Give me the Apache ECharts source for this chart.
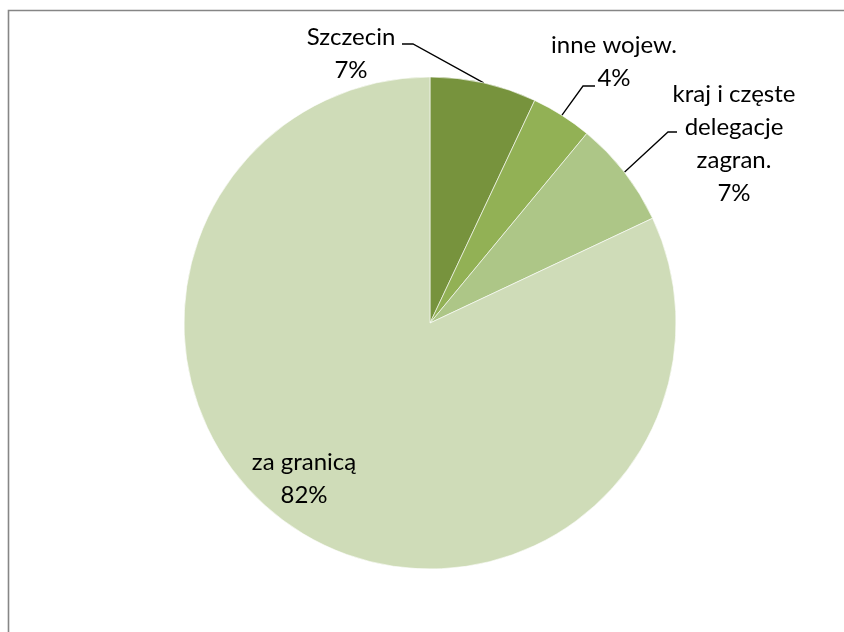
<!DOCTYPE html>
<html>
<head>
<meta charset="utf-8">
<script src="https://cdn.jsdelivr.net/npm/echarts@6/dist/echarts.min.js"></script>
<style>
  html, body { margin: 0; padding: 0; background: #fff; }
  #chart { width: 844px; height: 632px; }
</style>
</head>
<body>
<div id="chart"></div>
<script>
// ---- data ----
const categories = ['Szczecin', 'inne wojew.', 'kraj i częste\ndelegacje\nzagran.', 'za granicą'];
const values = [7, 4, 7, 82];
const colors = ['#77933D', '#92B155', '#ADC687', '#CFDCB8'];

// ---- label layout (pixel anchors for labels and leader-line bends) ----
const labelAnchors = [
  { x: 351, y: 54, align: 'center', bend: [413, 44], end: [402, 44] },
  { x: 614, y: 62, align: 'center', bend: [583, 86], end: [595, 86] },
  { x: 734, y: 144, align: 'center', bend: [668, 132], end: [677, 132] },
  { x: 304, y: 479, align: 'center' }
];

const chart = echarts.init(document.getElementById('chart'), null, { renderer: 'canvas' });

const seriesData = categories.map((name, i) => {
  const item = { name: name, value: values[i], itemStyle: { color: colors[i] } };
  if (i === 3) {
    item.label = { position: 'inside' };
    item.labelLine = { show: false };
  }
  return item;
});

chart.setOption({
  animation: false,
  backgroundColor: '#ffffff',
  graphic: [{
    type: 'rect',
    shape: { x: 8.5, y: 10.5, width: 900, height: 700 },
    style: { fill: 'none', stroke: '#868686', lineWidth: 1.6 },
    silent: true
  }],
  series: [{
    type: 'pie',
    center: [430, 323],
    radius: 246,
    startAngle: 90,
    clockwise: true,
    avoidLabelOverlap: false,
    itemStyle: { borderColor: '#ffffff', borderWidth: 0.6 },
    label: {
      show: true,
      position: 'outside',
      formatter: p => p.name + '\n' + Math.round(p.percent) + '%',
      fontFamily: 'Lato',
      fontSize: 24,
      lineHeight: 33,
      color: '#000000'
    },
    labelLine: {
      show: true,
      length: 10,
      length2: 10,
      lineStyle: { color: '#000000', width: 1.3 }
    },
    labelLayout: function (params) {
      const a = labelAnchors[params.dataIndex];
      const out = { x: a.x, y: a.y, align: a.align, verticalAlign: 'middle' };
      if (a.bend && params.labelLinePoints) {
        out.labelLinePoints = [params.labelLinePoints[0], a.bend, a.end];
      }
      return out;
    },
    emphasis: { disabled: true },
    data: seriesData
  }]
});
</script>
</body>
</html>
